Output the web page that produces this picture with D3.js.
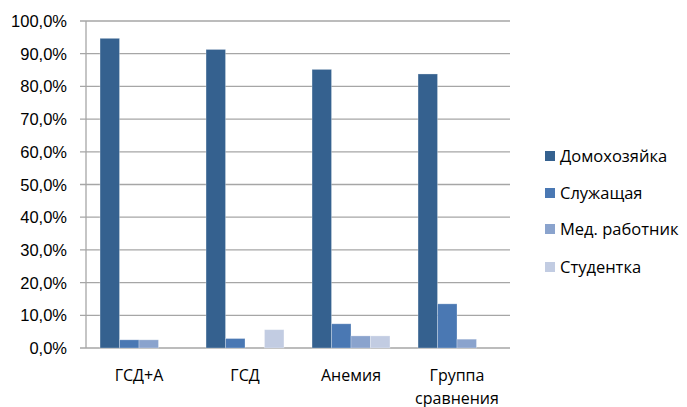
<!DOCTYPE html>
<html><head><meta charset="utf-8">
<script src="https://cdn.jsdelivr.net/npm/d3@7"></script>
<style>body{margin:0;background:#fff}svg{display:block}text{font-family:"Liberation Sans",Arial,sans-serif;fill:#000}.lab{font-family:"Open Sans",sans-serif}</style>
</head><body><svg id="c" width="687" height="407"></svg>
<script>
const categories = ["ГСД+А", "ГСД", "Анемия", "Группа сравнения"];
const seriesNames = ["Домохозяйка", "Служащая", "Мед. работник", "Студентка"];
const homemaker = [94.7, 91.3, 85.2, 83.8];
const employee = [2.5, 2.9, 7.4, 13.5];
const medical = [2.5, 0, 3.7, 2.7];
const student = [0, 5.6, 3.7, 0];
const yTicks = [0,10,20,30,40,50,60,70,80,90,100];
const colors = ["#35618f", "#4a78b3", "#8aa3cd", "#c2cce2"];
const seriesValues = [homemaker, employee, medical, student];

const svg = d3.select("#c");
const L = 86, R = 510, T = 21, B = 348;
const y = d3.scaleLinear().domain([0,100]).range([B,T]);
const x0 = d3.scaleBand().domain(categories).range([L,R]).paddingInner(0.265).paddingOuter(0.1325);
const x1 = d3.scaleBand().domain(seriesNames).range([0, x0.bandwidth()]);

// gridlines
svg.append("g").selectAll("line").data(yTicks).join("line")
  .attr("x1", L-6).attr("x2", R).attr("y1", d=>y(d)).attr("y2", d=>y(d))
  .attr("stroke", "#a6a6a6").attr("stroke-width", 1.3);
svg.append("line").attr("x1", L).attr("x2", L).attr("y1", T).attr("y2", B)
  .attr("stroke", "#a6a6a6").attr("stroke-width", 1.3);

// y labels
svg.append("g").selectAll("text").data(yTicks).join("text")
  .attr("x", 67).attr("y", d=>y(d)+6).attr("text-anchor","end")
  .attr("font-size", 16.5).text(d=>d.toFixed(1).replace(".", ",")+"%");

// bars
const g = svg.append("g");
seriesNames.forEach((s, si) => {
  g.append("g").selectAll("rect").data(categories).join("rect")
    .attr("x", c => x0(c) + x1(s))
    .attr("width", x1.bandwidth())
    .attr("y", (c,i) => y(seriesValues[si][i]))
    .attr("height", (c,i) => B - y(seriesValues[si][i]))
    .attr("fill", colors[si])
    .attr("stroke", "rgba(255,255,255,0.35)")
    .attr("stroke-width", 0.8)
    .attr("display", (c,i) => seriesValues[si][i] > 0 ? null : "none");
});

// x labels
const xl = svg.append("g");
categories.forEach(c => {
  const cx = x0(c) + x0.bandwidth()/2;
  const words = c === "Группа сравнения" ? ["Группа", "сравнения"] : [c];
  words.forEach((w, i) => {
    xl.append("text").attr("class","lab").attr("x", cx).attr("y", 381 + i*23).attr("text-anchor","middle")
      .attr("font-size", 16).text(w);
  });
});

// legend
const leg = svg.append("g");
const legY = [156, 193, 229, 267];
seriesNames.forEach((s, i) => {
  leg.append("rect").attr("x", 545).attr("y", legY[i]-5).attr("width", 10).attr("height", 10).attr("fill", colors[i]);
  leg.append("text").attr("class","lab").attr("x", 560).attr("y", legY[i]+6).attr("font-size", 16.5).text(s);
});
</script></body></html>
